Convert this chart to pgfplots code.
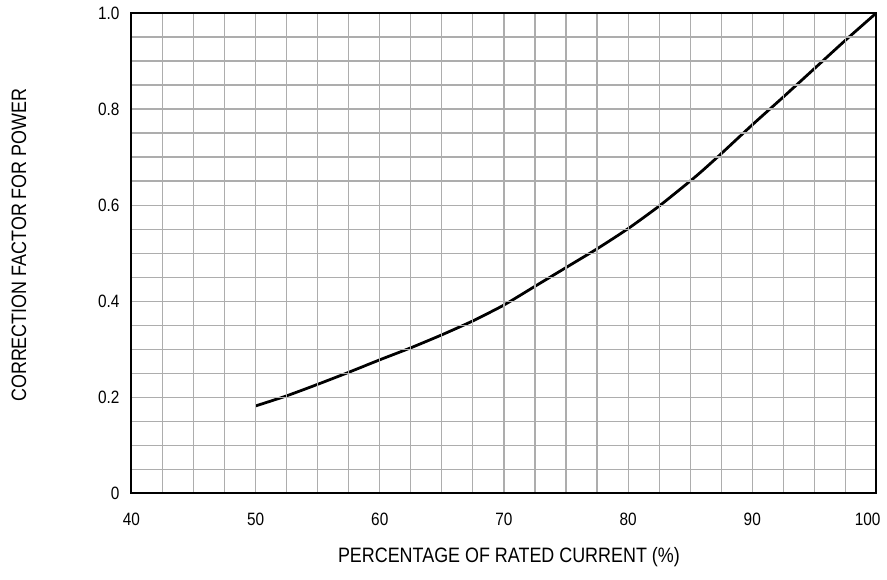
\documentclass[border=0pt]{standalone}
\usepackage{fontspec}
\setmainfont{Liberation Sans}[FakeStretch=0.86]
\usepackage{pgfplots}
\pgfplotsset{compat=1.18}
\begin{document}
\begin{tikzpicture}
\begin{axis}[
  scale only axis, width=374bp, height=241.2bp,
  xmin=40, xmax=100, ymin=0, ymax=1,
  xtick={40,50,60,70,80,90,100},
  xticklabels={40,50,60,70,80,90,\makebox[4bp][r]{100}},
  ytick={0,0.2,0.4,0.6,0.8,1.0},
  yticklabels={0,0.2,0.4,0.6,0.8,1.0},
  minor x tick num=3, minor y tick num=3,
  grid=both,
  major grid style={black!32, line width=0.6pt},
  minor grid style={black!32, line width=0.6pt},
  axis line style={line width=1pt},
  major tick length=0pt, minor tick length=0pt,
  tick label style={font=\fontsize{9}{11}\selectfont},
  xticklabel style={yshift=-6.5bp},
  yticklabel style={xshift=-2.5bp},
  /pgf/number format/assume math mode=true,
  label style={font=\fontsize{10.5}{12.5}\selectfont},
  xlabel={PERCENTAGE OF RATED CURRENT (\%)},
  ylabel={CORRECTION FACTOR FOR POWER},
  xlabel style={at={([xshift=2.5bp,yshift=-32bp]axis description cs:0.5,0)}, anchor=center},
  ylabel style={at={([xshift=-56.5bp,yshift=4bp]axis description cs:0,0.5)}, anchor=center},
  axis on top,
]
\addplot[black, line width=1.4pt, smooth, tension=0.35] coordinates {
(50,0.182)(52.5,0.203)(55,0.227)(57.5,0.252)(60,0.278)(62.5,0.303)(65,0.330)
(67.5,0.359)(70,0.392)(72.5,0.431)(75,0.470)(77.5,0.509)(80,0.551)(82.5,0.598)
(85,0.650)(86,0.672)(87.5,0.707)(90,0.767)(92.5,0.825)(95,0.884)(97.5,0.943)(100,1.0)
};
\end{axis}
\path ([shift={(-66bp,-43bp)}]current axis.south west) rectangle ([shift={(3.5bp,6.35bp)}]current axis.north east);
\end{tikzpicture}
\end{document}
